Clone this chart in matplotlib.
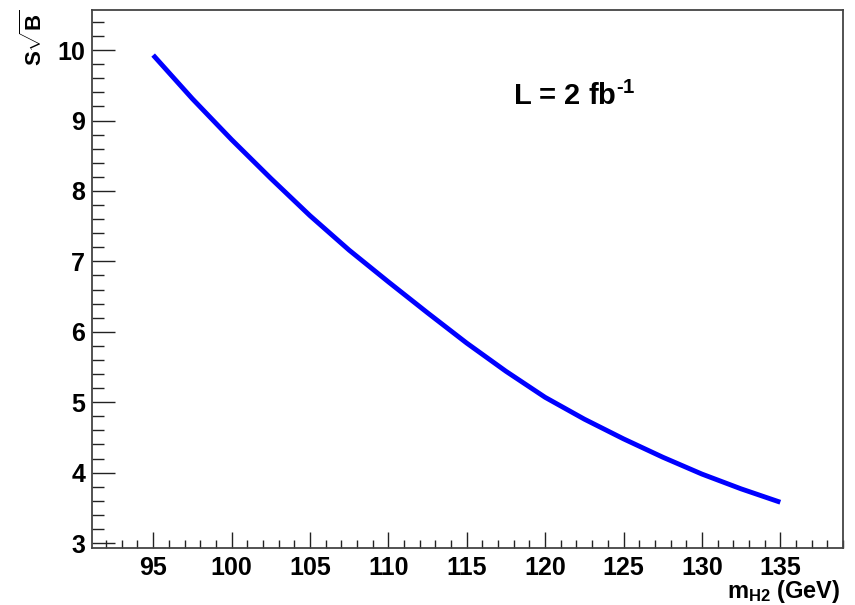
import matplotlib
matplotlib.use("Agg")
import matplotlib.pyplot as plt
from matplotlib.ticker import MultipleLocator

plt.rcParams['font.family'] = ['Liberation Sans', 'DejaVu Sans']
plt.rcParams['font.weight'] = 'bold'
plt.rcParams['mathtext.fontset'] = 'custom'
plt.rcParams['mathtext.rm'] = 'Liberation Sans:bold'
plt.rcParams['mathtext.bf'] = 'Liberation Sans:bold'
plt.rcParams['mathtext.it'] = 'Liberation Sans:bold'

# data
mass = [95, 97.5, 100, 102.5, 105, 107.5, 110, 112.5, 115, 117.5, 120,
        122.5, 125, 127.5, 130, 132.5, 135]
signif = [9.93, 9.31, 8.73, 8.18, 7.65, 7.16, 6.71, 6.27, 5.84, 5.44, 5.07,
          4.76, 4.48, 4.22, 3.98, 3.77, 3.58]
xticks = [95, 100, 105, 110, 115, 120, 125, 130, 135]
yticks = [3, 4, 5, 6, 7, 8, 9, 10]

fig = plt.figure(figsize=(8.55, 6.05), dpi=100)
ax = fig.add_axes([92/855, 1-548/605, (843-92)/855, (548-10)/605])

ax.plot(mass, signif, color='#0000ff', lw=3.5, solid_capstyle='butt')

ax.set_xlim(91.1, 139.0)
ax.set_ylim(2.93, 10.57)
ax.set_xticks(xticks)
ax.set_yticks(yticks)
ax.xaxis.set_minor_locator(MultipleLocator(1))
ax.yaxis.set_minor_locator(MultipleLocator(0.2))

for s in ax.spines.values():
    s.set_color('#444444')
    s.set_linewidth(1.3)

ax.tick_params(axis='both', which='both', direction='in', top=False, right=False,
               color='#222222', width=1.0)
ax.tick_params(axis='y', which='major', length=16.5, pad=5, labelsize=18)
ax.tick_params(axis='y', which='minor', length=8.5)
ax.tick_params(axis='x', which='major', length=11.5, pad=6, labelsize=18)
ax.tick_params(axis='x', which='minor', length=5.8)
for lab in ax.get_xticklabels() + ax.get_yticklabels():
    lab.set_fontweight('bold')

fig.text(840/855, 1-598/605, r'm$_{\mathrm{H2}}$ (GeV)', ha='right', va='baseline',
         fontsize=17, fontweight='bold')
fig.text(34/855, 1-9/605, r'S$\sqrt{\mathrm{B}}$', ha='center', va='top',
         rotation=90, fontsize=16, fontweight='bold')
ax.text(513/855, 1-105/605, 'L = 2 fb$^{\\mathrm{\u2010}\\mathrm{1}}$', transform=fig.transFigure,
        ha='left', va='baseline', fontsize=21, fontweight='bold')

fig.savefig('out.png', dpi=100)
